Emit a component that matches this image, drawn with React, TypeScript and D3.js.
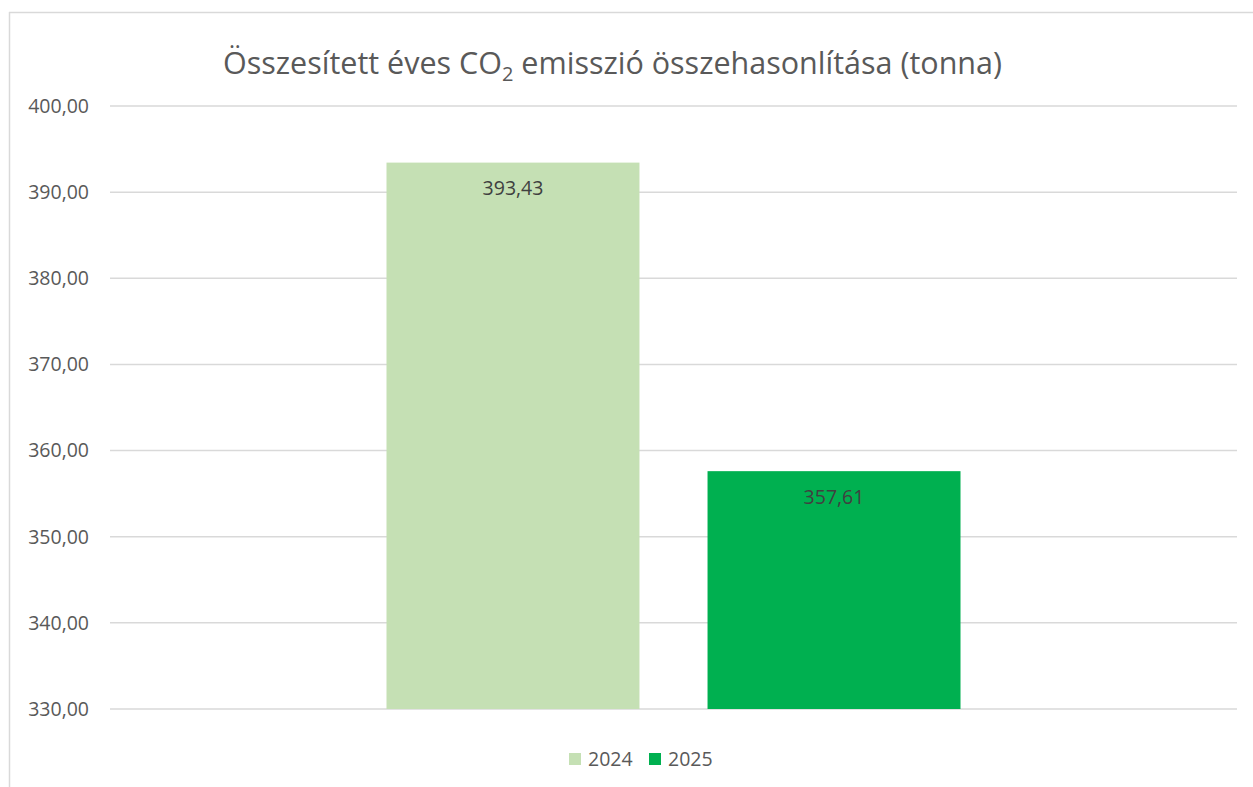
import React from "react";
import * as d3 from "d3";

const series = ["2024", "2025"];
const values = [393.43, 357.61];
const colors = ["#c5e0b4", "#00b050"];
const yTicks = [330, 340, 350, 360, 370, 380, 390, 400];
const categories = ["Összesen"];

const W = 1253;
const H = 787;
const FONT = "'Open Sans', 'Noto Sans', sans-serif";

export default function App() {
  const plot = { left: 110, right: 1237, top: 106, bottom: 709 };
  const y = d3.scaleLinear().domain([330, 400]).range([plot.bottom, plot.top]);
  const x0 = d3.scaleBand().domain(categories).range([plot.left, plot.right]).paddingInner(0).paddingOuter(0.4817);
  const x1 = d3.scaleBand().domain(series).range([0, x0.bandwidth()]).paddingInner(0.212);
  const fmt = (v: number) => v.toFixed(2).replace(".", ",");

  return (
    <div style={{ position: "absolute", left: 0, top: 0 }}>
      <svg width={W} height={H} style={{ display: "block", background: "#fff" }}>
        <rect x={0} y={0} width={W} height={H} fill="#fff" />
        {/* chart border */}
        <line x1={9} x2={W} y1={12.5} y2={12.5} stroke="#d9d9d9" strokeWidth={1.5} />
        <line x1={9.5} x2={9.5} y1={12} y2={H} stroke="#d9d9d9" strokeWidth={1.5} />
        {/* title */}
        <text x={612.5} y={74} textAnchor="middle" fontFamily={FONT} fontSize={30.5} fill="#595959">
          Összesített éves CO<tspan fontSize={20} dy={7}>2</tspan>
          <tspan dy={-7}> emisszió összehasonlítása (tonna)</tspan>
        </text>
        {/* gridlines and y labels */}
        {yTicks.map((t) => (
          <g key={t}>
            <line x1={plot.left} x2={plot.right} y1={y(t)} y2={y(t)} stroke="#d9d9d9" strokeWidth={1.5} />
            <text x={89} y={y(t)} dy="0.35em" textAnchor="end" fontFamily={FONT} fontSize={19.5} fill="#595959">
              {fmt(t)}
            </text>
          </g>
        ))}
        {/* bars */}
        {categories.map((c) => (
          <g key={c} transform={`translate(${x0(c)},0)`}>
            {series.map((s, i) => (
              <g key={s}>
                <rect x={x1(s)} y={y(values[i])} width={x1.bandwidth()} height={y(330) - y(values[i])} fill={colors[i]} />
                <text x={(x1(s) as number) + x1.bandwidth() / 2} y={y(values[i]) + 26} dy="0.35em" textAnchor="middle" fontFamily={FONT} fontSize={19.5} fill="#404040">
                  {fmt(values[i])}
                </text>
              </g>
            ))}
          </g>
        ))}
        {/* legend */}
        {series.map((s, i) => (
          <g key={s} transform={`translate(${569 + i * 80},753)`}>
            <rect x={0} y={0} width={12} height={12} fill={colors[i]} />
            <text x={19} y={6} dy="0.35em" fontFamily={FONT} fontSize={19.5} fill="#595959">{s}</text>
          </g>
        ))}
      </svg>
    </div>
  );
}
